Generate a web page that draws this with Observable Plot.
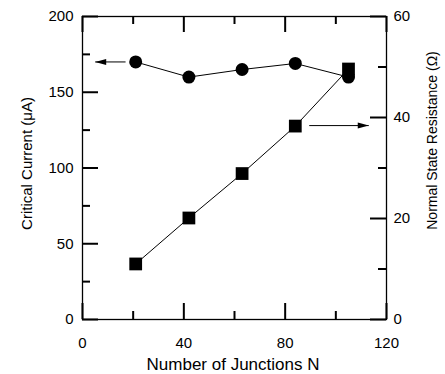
<!DOCTYPE html>
<html><head><meta charset="utf-8">
<script src="https://cdn.jsdelivr.net/npm/d3@7"></script>
<script src="https://cdn.jsdelivr.net/npm/@observablehq/plot@0.6"></script>
<style>
body{margin:0;background:#fff}
svg{font-family:"Liberation Sans",Arial,sans-serif}
g[aria-label="x-title"] text{letter-spacing:1.3px}
</style>
</head><body><div id="chart"></div>
<script>
// Data
const junctions = [21, 42, 63, 84, 105];
const criticalCurrent = [170, 160, 165, 169, 160];   // μA (left axis)
const resistance = [11.0, 20.1, 28.9, 38.3, 49.6];    // Ω (right axis)

// Tick values
const xMajorTicks = [0, 40, 80, 120];
const xMinorTicks = [20, 60, 100];
const leftMajorTicks = [0, 50, 100, 150, 200];
const leftMinorTicks = [25, 75, 125, 175];
const rightMajorTicks = [0, 20, 40, 60];
const rightMinorTicks = [10, 30, 50];

// Annotation arrows (which series each points to)
const arrowFromN = [17, 89.5];
const arrowToN = [5, 113];
const arrowValue = [170, 38.4];
const arrowAxis = ["left", "right"];

// Titles
const xTitle = "Number of Junctions N";
const leftTitle = "Critical Current (μA)";
const rightTitle = "Normal State Resistance (Ω)";

const k = 200 / 60; // right axis → left scale
const current = junctions.map((n, i) => ({n, v: criticalCurrent[i]}));
const res = junctions.map((n, i) => ({n, v: resistance[i] * k}));
const arrows = arrowFromN.map((x1, i) => ({
  x1, x2: arrowToN[i],
  y: arrowAxis[i] === "left" ? arrowValue[i] : arrowValue[i] * k
}));
const rightTicks = rightMajorTicks.map(v => v * k);
const rightMinor = rightMinorTicks.map(v => v * k);

const W = 445, H = 374, ML = 82, MR = 59, MT = 16, MB = 55;
const FW = W - ML - MR, FH = H - MT - MB;
const MAJ = 16, MIN = 8, TW = 2;
const tk = {stroke: "black", strokeWidth: TW};

const head = {
  draw(ctx, l) {
    ctx.moveTo(0, -l);
    ctx.lineTo(-3, 0);
    ctx.lineTo(3, 0);
    ctx.closePath();
  }
};

const chart = Plot.plot({
  width: W,
  height: H,
  marginLeft: ML,
  marginRight: MR,
  marginTop: MT,
  marginBottom: MB,
  style: {fontFamily: "'Liberation Sans', Arial, sans-serif", color: "black", background: "white"},
  x: {domain: [0, 120]},
  y: {domain: [0, 200]},
  marks: [
    Plot.frame({stroke: "black", strokeWidth: 1.3}),
    // inward ticks as short rules
    Plot.ruleX(xMajorTicks, {x: d => d, insetTop: FH - MAJ, ...tk}),
    Plot.ruleX(xMinorTicks, {x: d => d, insetTop: FH - MIN, ...tk}),
    Plot.ruleX(xMajorTicks, {x: d => d, insetBottom: FH - MAJ, ...tk}),
    Plot.ruleX(xMinorTicks, {x: d => d, insetBottom: FH - MIN, ...tk}),
    Plot.ruleY(leftMajorTicks, {y: d => d, insetRight: FW - MAJ, ...tk}),
    Plot.ruleY(leftMinorTicks, {y: d => d, insetRight: FW - MIN, ...tk}),
    Plot.ruleY(rightTicks, {y: d => d, insetLeft: FW - MAJ, ...tk}),
    Plot.ruleY(rightMinor, {y: d => d, insetLeft: FW - MIN, ...tk}),
    // tick labels
    Plot.axisX({ticks: xMajorTicks, tickSize: 0, tickPadding: 18, fontSize: 15, label: null}),
    Plot.axisY({ticks: leftMajorTicks, tickSize: 0, tickPadding: 9, fontSize: 15, label: null}),
    Plot.axisY({anchor: "right", ticks: rightTicks, tickFormat: d => String(Math.round(d / k)),
      tickSize: 0, tickPadding: 7, fontSize: 15, label: null}),
    // resistance series
    Plot.line(res, {x: "n", y: "v", stroke: "black", strokeWidth: 1}),
    Plot.dot(res, {x: "n", y: "v", symbol: "square", r: 7.2, fill: "black", stroke: "none"}),
    // current series
    Plot.line(current, {x: "n", y: "v", stroke: "black", strokeWidth: 1}),
    Plot.dot(current, {x: "n", y: "v", symbol: "circle", r: 6.5, fill: "black", stroke: "none"}),
    // arrows
    Plot.link(arrows, {x1: "x1", x2: "x2", y1: "y", y2: "y", stroke: "black", strokeWidth: 1}),
    Plot.vector(arrows, {x: "x2", y: "y", rotate: d => d.x2 < d.x1 ? -90 : 90, length: 11, anchor: "end",
      shape: head, fill: "black", stroke: "none"}),
    // titles
    Plot.text([xTitle], {frameAnchor: "bottom", dy: 45, dx: -1.5, text: d => d, fontSize: 17, fill: "black",
      textAnchor: "middle", lineAnchor: "middle", ariaLabel: "x-title"}),
    Plot.text([leftTitle], {frameAnchor: "left", dx: -55, dy: -4.5, rotate: -90, text: d => d, fontSize: 15, fill: "black",
      textAnchor: "middle", lineAnchor: "middle"}),
    Plot.text([rightTitle], {frameAnchor: "right", dx: 46, dy: -27.5, rotate: -90, text: d => d, fontSize: 14, fill: "black",
      textAnchor: "middle", lineAnchor: "middle"})
  ]
});
document.getElementById("chart").appendChild(chart);
</script>
</body></html>
